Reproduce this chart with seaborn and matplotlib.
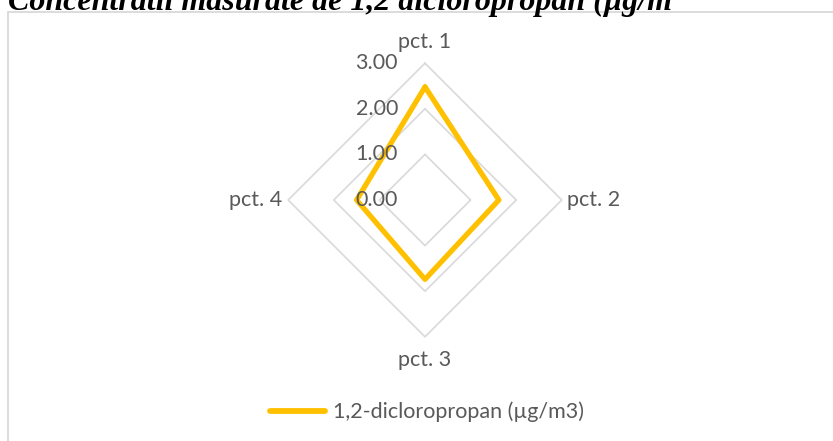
import numpy as np
import pandas as pd
import matplotlib.pyplot as plt
import seaborn as sns
from matplotlib.lines import Line2D

# data
points = ["pct. 1", "pct. 2", "pct. 3", "pct. 4"]
values = [2.48, 1.62, 1.74, 1.50]
ring_levels = [1.0, 2.0, 3.0]
tick_levels = [0.0, 1.0, 2.0, 3.0]
series_name = "1,2-dicloropropan (µg/m3)"
title = "Concentratii masurate de 1,2 dicloropropan (µg/m"

sns.set_style("white")
plt.rcParams["font.family"] = ["Lato", "DejaVu Sans"]

W, H = 833, 441
cx, cy, scale = 425, 200, 45.6  # radar centre in px (from top-left) and px per unit
grey_txt = "#595959"
grid_col = "#D9D9D9"
gold = "#FFC000"
fs = 15.5

fig = plt.figure(figsize=(W / 100, H / 100), dpi=100)
ax = fig.add_axes([0, 0, 1, 1])
ax.set_xlim(-cx / scale, (W - cx) / scale)
ax.set_ylim(-(H - cy) / scale, cy / scale)
ax.axis("off")

# clockwise from the top
angles = np.pi / 2 - np.arange(len(points)) * 2 * np.pi / len(points)
ang_closed = np.append(angles, angles[0])

# diamond grid
for r in ring_levels:
    ax.plot(r * np.cos(ang_closed), r * np.sin(ang_closed), color=grid_col, lw=1.2, zorder=1)

# the series
v_closed = np.append(values, values[0])
df = pd.DataFrame({"x": v_closed * np.cos(ang_closed), "y": v_closed * np.sin(ang_closed)})
sns.lineplot(data=df, x="x", y="y", sort=False, estimator=None, color=gold, lw=3.8,
             solid_joinstyle="round", ax=ax, legend=False, zorder=3)

# category labels
lab_r = [3.46, 3.11, 3.5, 3.14]
ha = ["center", "left", "center", "right"]
for name, a, r, h in zip(points, angles, lab_r, ha):
    ax.text(r * np.cos(a), r * np.sin(a), name, ha=h, va="center", fontsize=fs, color=grey_txt)

# radial tick labels
for t in tick_levels:
    ax.text(-0.59, t, f"{t:.2f}", ha="right", va="center", fontsize=fs, color=grey_txt, zorder=4)

# legend
handle = Line2D([], [], color=gold, lw=4.2, solid_capstyle="round")
fig.legend([handle], [series_name], loc="center", bbox_to_anchor=(427 / W, 1 - 412 / H),
           frameon=False, fontsize=fs, labelcolor=grey_txt, handlelength=2.55, handletextpad=0.35)

# chart frame (only top and left are visible in the crop)
fig.add_artist(Line2D([8 / W, 8 / W], [0, 1 - 12 / H], transform=fig.transFigure, color=grid_col, lw=1.3))
fig.add_artist(Line2D([8 / W, 1], [1 - 12 / H, 1 - 12 / H], transform=fig.transFigure, color=grid_col, lw=1.3))

# clipped title, as in the reference
fig.text(8 / W, 1 - 10 / H, title, family="Liberation Serif", weight="bold", style="italic",
         fontsize=23, ha="left", va="baseline", color="black")

fig.savefig("out.png", dpi=100)
